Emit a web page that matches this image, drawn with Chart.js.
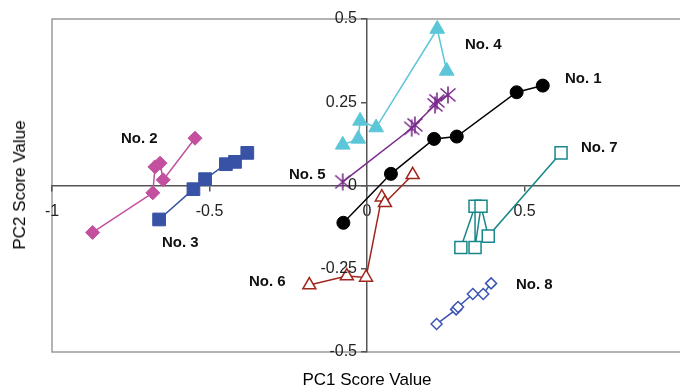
<!DOCTYPE html>
<html>
<head>
<meta charset="utf-8">
<script src="https://cdn.jsdelivr.net/npm/chart.js@4.4.1/dist/chart.umd.min.js"></script>
<style>
  html, body { margin: 0; padding: 0; background: #fff; overflow: hidden; }
  #wrap { position: relative; width: 680px; height: 388px; overflow: hidden; }
  canvas { position: absolute; left: 0; top: 0; }
  .lbl { position: absolute; font: bold 15px "Liberation Sans", Arial, sans-serif; color: #111; white-space: pre; transform: translateY(-50%); }
  .ttl { position: absolute; font: 17px "Liberation Sans", Arial, sans-serif; color: #000; white-space: nowrap; }
</style>
</head>
<body>
<div id="wrap">
  <canvas id="c" width="693" height="388"></canvas>
  <div class="lbl" style="left:565px; top:77px;">No. 1</div>
  <div class="lbl" style="left:121px; top:137px;">No. 2</div>
  <div class="lbl" style="left:162px; top:241px;">No. 3</div>
  <div class="lbl" style="left:465px; top:43px;">No. 4</div>
  <div class="lbl" style="left:289px; top:173px;">No. 5</div>
  <div class="lbl" style="left:249px; top:280px;">No. 6</div>
  <div class="lbl" style="left:581px; top:146px;">No. 7</div>
  <div class="lbl" style="left:516px; top:283px;">No. 8</div>
  <div class="ttl" style="left:367px; top:380px; transform: translate(-50%,-50%);">PC1 Score Value</div>
  <div class="ttl" style="left:20px; top:185px; transform: translate(-50%,-50%) rotate(-90deg);">PC2 Score Value</div>
</div>
<script>
// ---- data (PC1 = x, PC2 = y) ----
const seriesNames = ["No. 1", "No. 2", "No. 3", "No. 4", "No. 5", "No. 6", "No. 7", "No. 8"];
const no1X = [-0.075, 0.076, 0.213, 0.285, 0.475, 0.558];
const no1Y = [-0.112, 0.035, 0.140, 0.147, 0.280, 0.300];
const no2X = [-0.871, -0.680, -0.673, -0.657, -0.647, -0.546];
const no2Y = [-0.141, -0.022, 0.056, 0.067, 0.017, 0.142];
const no3X = [-0.660, -0.551, -0.514, -0.448, -0.419, -0.380];
const no3Y = [-0.102, -0.011, 0.019, 0.064, 0.071, 0.098];
const no4X = [-0.077, -0.028, -0.022, 0.029, 0.223, 0.253];
const no4Y = [0.122, 0.140, 0.194, 0.174, 0.470, 0.344];
const no5X = [-0.077, 0.142, 0.152, 0.216, 0.222, 0.257];
const no5Y = [0.011, 0.172, 0.182, 0.242, 0.254, 0.272];
const no6X = [-0.183, -0.064, -0.003, 0.047, 0.057, 0.145];
const no6Y = [-0.299, -0.272, -0.276, -0.035, -0.052, 0.032];
const no7X = [0.298, 0.343, 0.343, 0.362, 0.385, 0.616];
const no7Y = [-0.186, -0.062, -0.186, -0.062, -0.152, 0.098];
const no8X = [0.221, 0.283, 0.289, 0.336, 0.369, 0.394];
const no8Y = [-0.416, -0.372, -0.365, -0.326, -0.326, -0.294];
const xTicks = [-1, -0.5, 0, 0.5];
const yTicks = [-0.5, -0.25, 0, 0.25, 0.5];

function pts(xs, ys) { return xs.map((x, i) => ({ x: x, y: ys[i] })); }

// asterisk marker (6 arms) for No. 5
function makeStar(color) {
  const c = document.createElement('canvas');
  c.width = 18; c.height = 18;
  const g = c.getContext('2d');
  g.strokeStyle = color; g.lineWidth = 1.6;
  g.beginPath();
  g.moveTo(9, 0.5); g.lineTo(9, 17.5);
  g.moveTo(1.5, 2.5); g.lineTo(16.5, 15.5);
  g.moveTo(16.5, 2.5); g.lineTo(1.5, 15.5);
  g.stroke();
  return c;
}

function ds(label, xs, ys, color, style, radius, filled) {
  return {
    label: label,
    data: pts(xs, ys),
    showLine: true,
    borderColor: color,
    borderWidth: 1.5,
    tension: 0,
    pointStyle: style,
    pointRadius: radius,
    pointHoverRadius: radius,
    pointBackgroundColor: filled ? color : '#ffffff',
    pointBorderColor: color,
    pointBorderWidth: filled ? 1 : 1.5,
    fill: false
  };
}

const plotFrame = {
  id: 'plotFrame',
  beforeDraw(chart) {
    const { ctx, chartArea: a } = chart;
    ctx.save();
    ctx.fillStyle = '#ffffff';
    ctx.fillRect(0, 0, chart.width, chart.height);
    ctx.strokeStyle = '#9a9a9a';
    ctx.lineWidth = 1.5;
    ctx.beginPath();
    ctx.moveTo(chart.width, a.top);
    ctx.lineTo(a.left, a.top);
    ctx.lineTo(a.left, a.bottom);
    ctx.lineTo(chart.width, a.bottom);
    ctx.stroke();
    ctx.restore();
  },
  afterDraw(chart) {
    // y tick labels, right-aligned to the left of the centred y axis
    const { ctx } = chart;
    const xs = chart.scales.x, ys = chart.scales.y;
    const ax = xs.getPixelForValue(0);
    ctx.save();
    ctx.font = '16px "Liberation Sans", Arial, sans-serif';
    ctx.fillStyle = '#222';
    ctx.textAlign = 'right';
    ctx.textBaseline = 'middle';
    yTicks.forEach(v => ctx.fillText(String(v), ax - 10, ys.getPixelForValue(v)));
    ctx.restore();
  }
};

const tickFont = { family: '"Liberation Sans", Arial, sans-serif', size: 16 };

new Chart(document.getElementById('c'), {
  type: 'scatter',
  data: {
    datasets: [
      ds(seriesNames[0], no1X, no1Y, '#000000', 'circle', 6.5, true),
      ds(seriesNames[1], no2X, no2Y, '#C2509F', 'rectRot', 7, true),
      ds(seriesNames[2], no3X, no3Y, '#3853A6', 'rect', 9, true),
      ds(seriesNames[3], no4X, no4Y, '#5CC6D9', 'triangle', 8.5, true),
      ds(seriesNames[4], no5X, no5Y, '#7A2B8C', makeStar('#7A2B8C'), 8, true),
      ds(seriesNames[5], no6X, no6Y, '#A0261E', 'triangle', 7.5, false),
      ds(seriesNames[6], no7X, no7Y, '#18878A', 'rect', 8.5, false),
      ds(seriesNames[7], no8X, no8Y, '#3A55B4', 'rectRot', 5.5, false)
    ]
  },
  options: {
    responsive: false,
    animation: false,
    devicePixelRatio: 1,
    layout: { padding: { left: 52, top: 19, right: 2, bottom: 36 } },
    plugins: { legend: { display: false }, tooltip: { enabled: false } },
    scales: {
      x: {
        type: 'linear',
        min: -1, max: 1,
        position: { y: 0 },
        afterFit(s) { s.height = 0; },
        afterBuildTicks(s) { s.ticks = xTicks.concat([1]).map(v => ({ value: v })); },
        grid: { drawOnChartArea: false, drawTicks: true, tickLength: 5, color: '#555', lineWidth: 1.5 },
        border: { display: true, color: '#555', width: 1.5 },
        ticks: {
          color: '#222', font: tickFont, padding: 11, maxRotation: 0, autoSkip: false,
          callback: (v) => (xTicks.includes(v) ? String(v) : '')
        }
      },
      y: {
        type: 'linear',
        min: -0.5, max: 0.5,
        position: { x: 0 },
        afterFit(s) { s.width = 0; },
        afterBuildTicks(s) { s.ticks = yTicks.map(v => ({ value: v })); },
        grid: { drawOnChartArea: false, drawTicks: true, tickLength: 5, color: '#555', lineWidth: 1.5 },
        border: { display: true, color: '#555', width: 1.5 },
        ticks: { display: false }
      }
    }
  },
  plugins: [plotFrame]
});
</script>
</body>
</html>
